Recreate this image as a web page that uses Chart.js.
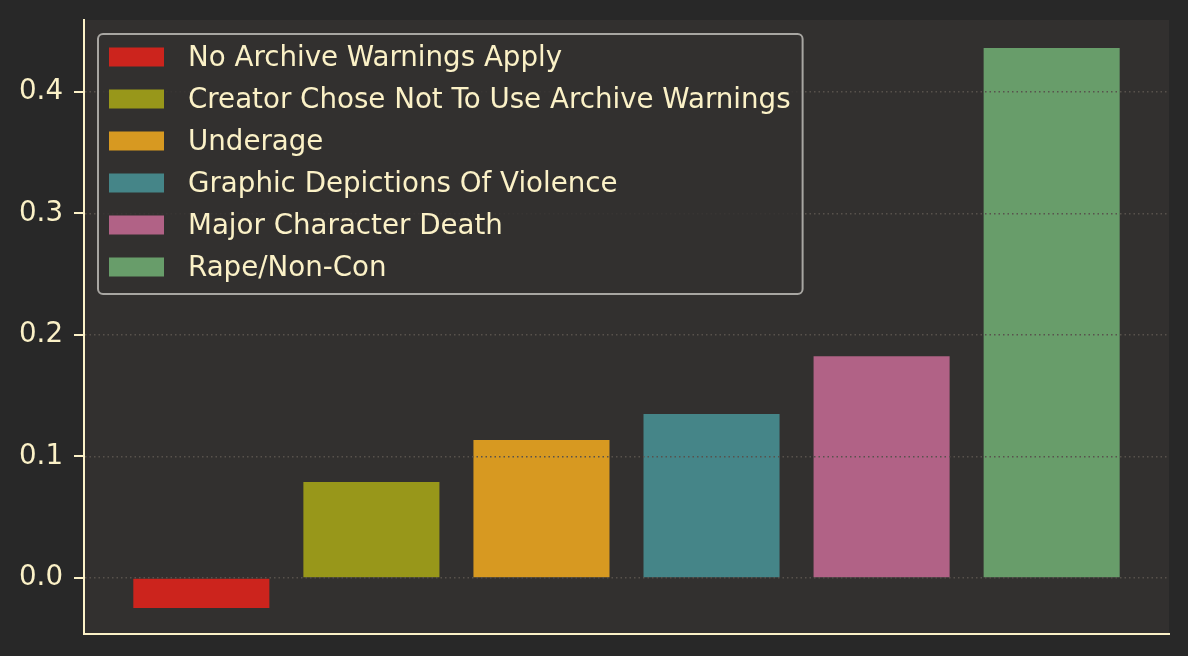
<!DOCTYPE html>
<html><head><meta charset="utf-8">
<script src="https://cdn.jsdelivr.net/npm/chart.js@4"></script>
<style>html,body{margin:0;padding:0;background:#282828;overflow:hidden}</style>
</head><body>
<canvas id="c" width="1188" height="656" style="width:1188px;height:656px;display:block"></canvas>
<script>
const categories = ['No Archive Warnings Apply','Creator Chose Not To Use Archive Warnings','Underage','Graphic Depictions Of Violence','Major Character Death','Rape/Non-Con'];
const values = [-0.0247, 0.079, 0.1135, 0.135, 0.1825, 0.436];
const colors = ['#cc241d','#98971a','#d79921','#458588','#b16286','#689d6a'];
const yTicks = [0, 0.1, 0.2, 0.3, 0.4];

const FG = '#fbf1c7';
const FONT = '"DejaVu Sans", sans-serif';

const bgPlugin = {
  id: 'bg',
  beforeDraw(chart) {
    const {ctx, chartArea: a} = chart;
    ctx.save();
    ctx.fillStyle = '#282828';
    ctx.fillRect(0, 0, chart.width, chart.height);
    ctx.fillStyle = '#32302f';
    ctx.fillRect(a.left, a.top, a.right - a.left, a.bottom - a.top);
    ctx.restore();
  }
};

const legendPlugin = {
  id: 'boxLegend',
  afterDraw(chart) {
    const {ctx} = chart;
    ctx.save();
    ctx.font = '27.7px ' + FONT;
    let maxW = 0;
    categories.forEach(c => { maxW = Math.max(maxW, ctx.measureText(c).width); });
    const left = 98, top = 34, rowH = 42, firstY = 57;
    const textX = 188;
    const right = textX + maxW + 12;
    const bottom = firstY + rowH * (categories.length - 1) + 27;
    ctx.beginPath();
    ctx.roundRect(left, top, right - left, bottom - top, 5);
    ctx.fillStyle = 'rgba(50,48,47,0.85)';
    ctx.fill();
    ctx.lineWidth = 2;
    ctx.strokeStyle = '#a8a6a2';
    ctx.stroke();
    ctx.textBaseline = 'middle';
    categories.forEach((c, i) => {
      const cy = firstY + rowH * i;
      ctx.fillStyle = colors[i];
      ctx.fillRect(109, cy - 9.5, 55, 19);
      ctx.fillStyle = FG;
      ctx.fillText(c, textX, cy + 1.5);
    });
    ctx.restore();
  }
};

const tickPlugin = {
  id: 'solidTicks',
  afterDraw(chart) {
    const {ctx} = chart;
    const y = chart.scales.y;
    ctx.save();
    ctx.strokeStyle = FG;
    ctx.lineWidth = 2;
    ctx.setLineDash([]);
    yTicks.forEach(v => {
      const py = Math.round(y.getPixelForValue(v)) + 0.0;
      ctx.beginPath();
      ctx.moveTo(y.right - 10, py);
      ctx.lineTo(y.right, py);
      ctx.stroke();
    });
    ctx.restore();
  }
};

new Chart(document.getElementById('c'), {
  type: 'bar',
  data: {
    datasets: [{
      label: 'values',
      data: values.map((v, i) => ({x: i, y: v})),
      backgroundColor: colors,
      borderWidth: 0,
      barPercentage: 0.8,
      categoryPercentage: 1.0
    }]
  },
  options: {
    responsive: false,
    animation: false,
    devicePixelRatio: 1,
    layout: {padding: {top: 20, right: 19, bottom: 22, left: 0}},
    plugins: {legend: {display: false}, tooltip: {enabled: false}},
    scales: {
      x: {
        type: 'linear',
        offset: false,
        min: -0.69, max: 5.69,
        afterBuildTicks: s => { s.ticks = categories.map((_, i) => ({value: i})); },
        afterFit: s => { s.height = 0; s.paddingLeft = 0; s.paddingRight = 0; },
        ticks: {display: false},
        grid: {display: false},
        border: {display: true, color: FG, width: 2}
      },
      y: {
        min: -0.046, max: 0.459,
        afterBuildTicks: s => { s.ticks = yTicks.map(v => ({value: v})); },
        afterFit: s => { s.width = 84; s.paddingTop = 0; s.paddingBottom = 0; },
        ticks: {
          color: FG, padding: 11,
          font: {family: FONT, size: 27.7},
          callback: v => Number(v).toFixed(1)
        },
        grid: {
          z: 1,
          color: '#58524d', lineWidth: 1.5,
          drawTicks: true,
          tickColor: 'rgba(0,0,0,0)', tickLength: 10, tickWidth: 2
        },
        border: {display: true, z: 1, color: FG, width: 2, dash: [1.5, 3]}
      }
    }
  },
  plugins: [bgPlugin, legendPlugin, tickPlugin]
});
</script>
</body></html>
